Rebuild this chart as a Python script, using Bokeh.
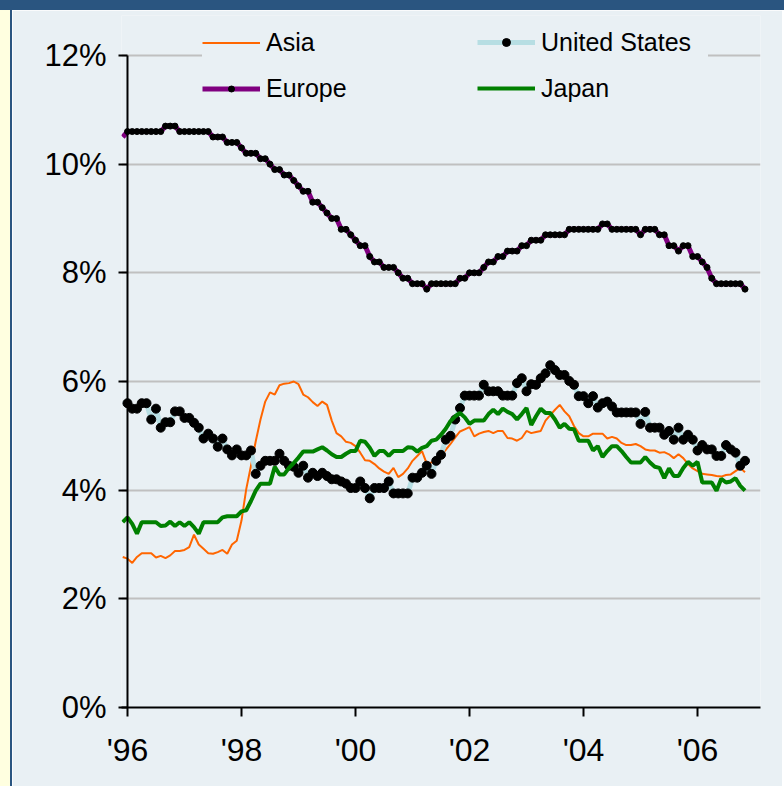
import pandas as pd
from bokeh.plotting import figure
from bokeh.layouts import column, row
from bokeh.models import FixedTicker, Legend, LegendItem, Range1d, Div
from bokeh.embed import file_html
from bokeh.resources import INLINE

# ---------------- data (monthly, Dec 1995 .. Nov 2006), in % ----------------
months = pd.date_range("1995-12-01", periods=132, freq="MS")

asia = [2.77, 2.74, 2.66, 2.77, 2.84, 2.84, 2.84, 2.76, 2.79, 2.75, 2.8, 2.88, 2.88,
        2.9, 2.95, 3.18, 3.0, 2.92, 2.84, 2.83, 2.86, 2.9, 2.83, 3.0, 3.07,
        3.44, 4.02, 4.45, 4.9, 5.3, 5.63, 5.8, 5.76, 5.93, 5.96, 5.97, 6.0, 5.95, 5.76,
        5.71, 5.62, 5.55, 5.63, 5.57, 5.28,
        5.05, 4.99, 4.89, 4.87, 4.81, 4.69, 4.55, 4.54, 4.48, 4.4, 4.34, 4.3, 4.41, 4.24,
        4.3, 4.4, 4.54, 4.63, 4.72, 4.49, 4.51,
        4.55, 4.64, 4.74, 4.85, 4.97, 5.08, 5.12, 5.16, 4.99, 5.04, 5.07, 5.09, 5.05, 5.09,
        5.09, 4.96, 4.95, 4.91, 4.96, 5.09, 5.05, 5.07, 5.09,
        5.28, 5.38, 5.48, 5.57, 5.45, 5.36, 5.18, 5.05, 4.99, 4.99, 5.04, 5.04, 5.04, 4.95,
        4.98, 4.95, 4.87, 4.83, 4.83, 4.85, 4.81, 4.75, 4.73, 4.73, 4.69, 4.7, 4.66, 4.59,
        4.66, 4.59, 4.48, 4.4, 4.35, 4.3, 4.29, 4.28, 4.26, 4.25, 4.28, 4.29, 4.35, 4.41, 4.33]

united_states = [5.6, 5.6, 5.5, 5.5, 5.6, 5.6, 5.3, 5.5, 5.15, 5.25,
                 5.25, 5.45, 5.45, 5.33, 5.33, 5.24, 5.15, 4.95, 5.04, 4.95,
                 4.8, 4.95, 4.75, 4.64, 4.75, 4.64, 4.64, 4.73, 4.3, 4.45,
                 4.54, 4.54, 4.54, 4.67, 4.54, 4.45, 4.43, 4.32, 4.45, 4.23,
                 4.32, 4.26, 4.32, 4.26,
                 4.2, 4.2, 4.16, 4.12, 4.04, 4.04, 4.16, 4.04, 3.85, 4.04,
                 4.04, 4.04, 4.16, 3.94, 3.94, 3.94, 3.94, 4.23, 4.23, 4.32,
                 4.45, 4.3, 4.54, 4.65, 4.93, 5.0, 5.3, 5.51, 5.74, 5.74,
                 5.74, 5.74, 5.94, 5.82, 5.82, 5.82, 5.74, 5.74, 5.74, 5.97,
                 6.06, 5.82, 5.95, 5.94, 6.06, 6.15,
                 6.3, 6.21, 6.12, 6.12, 6.01, 5.94, 5.73, 5.73, 5.6, 5.73,
                 5.52, 5.6, 5.63, 5.54, 5.43, 5.43, 5.43, 5.43, 5.43, 5.22,
                 5.44, 5.15, 5.15, 5.15, 5.02, 5.09, 4.93, 5.15, 4.93, 5.02,
                 4.93, 4.73, 4.83, 4.75, 4.75, 4.63, 4.63, 4.83, 4.75, 4.69,
                 4.45, 4.54]

europe = [10.5,
          10.6, 10.6, 10.6, 10.6, 10.6, 10.6, 10.6, 10.6,
          10.7, 10.7, 10.7,
          10.6, 10.6, 10.6, 10.6, 10.6, 10.6, 10.6,
          10.5, 10.5, 10.5, 10.4, 10.4, 10.4, 10.3, 10.2, 10.2, 10.2,
          10.1, 10.1, 10.0, 9.9, 9.9, 9.8, 9.8, 9.7, 9.6, 9.5, 9.5,
          9.3, 9.3, 9.2, 9.1, 9.0, 9.0, 8.8, 8.8, 8.7, 8.6, 8.5, 8.5,
          8.3, 8.2, 8.2, 8.1, 8.1, 8.1, 8.0, 7.9, 7.9, 7.8, 7.8, 7.8, 7.7,
          7.8, 7.8, 7.8, 7.8, 7.8, 7.8, 7.9, 7.9, 8.0, 8.0, 8.0, 8.1,
          8.2, 8.2, 8.3, 8.3, 8.4, 8.4, 8.4, 8.5, 8.5, 8.6, 8.6, 8.6,
          8.7, 8.7, 8.7, 8.7, 8.7,
          8.8, 8.8, 8.8, 8.8, 8.8, 8.8, 8.8, 8.9, 8.9,
          8.8, 8.8, 8.8, 8.8, 8.8, 8.8, 8.7, 8.8, 8.8, 8.8, 8.7, 8.7,
          8.5, 8.5, 8.4, 8.5, 8.5, 8.3, 8.3, 8.2, 8.1, 7.9,
          7.8, 7.8, 7.8, 7.8, 7.8, 7.8, 7.7]

japan = [3.41, 3.5, 3.38, 3.2, 3.41, 3.41, 3.41, 3.41, 3.34, 3.35, 3.42, 3.34, 3.41,
         3.34, 3.41, 3.32, 3.2, 3.41, 3.41, 3.41, 3.41, 3.5, 3.52, 3.52, 3.52, 3.61,
         3.63, 3.8, 3.99, 4.12, 4.12, 4.12, 4.43, 4.29, 4.29, 4.41, 4.5, 4.6, 4.71,
         4.71, 4.71, 4.75, 4.79, 4.73, 4.66,
         4.61, 4.61, 4.67, 4.72, 4.72, 4.91, 4.89, 4.78, 4.63, 4.72,
         4.72, 4.63, 4.72, 4.72, 4.72, 4.79, 4.78, 4.71, 4.78, 4.81,
         4.91, 4.93, 5.02, 5.13, 5.27, 5.36, 5.42, 5.34, 5.22, 5.28,
         5.28, 5.28, 5.4, 5.48, 5.4, 5.5, 5.44, 5.4, 5.3, 5.4,
         5.51, 5.2, 5.36, 5.5, 5.42,
         5.42, 5.3, 5.15, 5.22, 5.13, 5.12, 4.91, 4.91, 4.91, 4.73,
         4.81, 4.61, 4.72, 4.81, 4.81, 4.72, 4.61, 4.51, 4.51, 4.51,
         4.61, 4.51, 4.43, 4.41, 4.22, 4.4, 4.26, 4.26, 4.41, 4.52,
         4.45, 4.52, 4.14, 4.14, 4.14, 3.99, 4.21, 4.14, 4.16, 4.22,
         4.08, 3.99]

x_ticks = [1996, 1998, 2000, 2002, 2004, 2006]
x_tick_labels = ["'96", "'98", "'00", "'02", "'04", "'06"]
y_ticks = [0, 2, 4, 6, 8, 10, 12]
y_tick_labels = ["0%", "2%", "4%", "6%", "8%", "10%", "12%"]

for name, s in [("asia", asia), ("us", united_states), ("europe", europe), ("japan", japan)]:
    if len(s) != len(months):
        print("length mismatch", name, len(s))

x = list(months.year + (months.month - 1) / 12.0)

# ---------------- styling ----------------
BG = "#E9F0F4"
BLUE = "#2A5580"
CREAM = "#FFFFE0"
FONT = "Liberation Sans"

p = figure(width=772, height=776,
           x_range=Range1d(1995.895, 2007.105), y_range=Range1d(0, 12.736),
           output_backend="svg", toolbar_location=None,
           min_border_left=109, min_border_right=24, min_border_top=5, min_border_bottom=79,
           background_fill_color=BG, border_fill_color=BG, outline_line_color=None)
p.styles = {"border-left": "2px solid " + BLUE}

p.xgrid.visible = False
p.ygrid.ticker = FixedTicker(ticks=y_ticks[1:])
p.ygrid.grid_line_color = "#C0C0C0"
p.ygrid.grid_line_width = 2

xa = p.xaxis[0]
xa.ticker = FixedTicker(ticks=x_ticks)
xa.major_label_overrides = dict(zip(x_ticks, x_tick_labels))
xa.minor_tick_line_color = None
xa.major_tick_out = 9
xa.major_tick_in = 0
xa.axis_line_width = 2
xa.major_tick_line_width = 2
xa.major_label_text_font = FONT
xa.major_label_text_font_size = "32px"
xa.major_label_text_color = "#000000"
xa.major_label_standoff = 15

ya = p.yaxis[0]
ya.ticker = FixedTicker(ticks=y_ticks)
ya.major_label_overrides = dict(zip(y_ticks, y_tick_labels))
ya.minor_tick_line_color = None
ya.axis_line_color = None
ya.major_tick_in = 6
ya.major_tick_out = 3
ya.major_tick_line_width = 2
ya.major_label_text_font = FONT
ya.major_label_text_font_size = "31px"
ya.major_label_text_color = "#000000"
ya.major_label_standoff = 12

# ---------------- series ----------------
r_asia = p.line(x, asia, line_color="#FF6600", line_width=2)
r_us_line = p.line(x, united_states, line_color="#B7DEE3", line_width=5)
r_us_dots = p.scatter(x[1:], united_states[1:], size=9, fill_color="black", line_color="black")
r_eu_line = p.line(x, europe, line_color="#800080", line_width=5)
r_eu_dots = p.scatter(x[1:], europe[1:], size=6, fill_color="black", line_color="black")
r_jp = p.line(x, japan, line_color="#008000", line_width=4)

# y-axis line at '96, from 0% to 12%
p.segment(x0=[x_ticks[0]], y0=[y_ticks[0]], x1=[x_ticks[0]], y1=[y_ticks[-1]],
          line_color="black", line_width=2)

common = dict(orientation="vertical", spacing=10, glyph_width=58,
              label_height=36, label_standoff=6, background_fill_color=BG,
              background_fill_alpha=1.0, border_line_color=None, margin=0,
              label_text_font=FONT, label_text_font_size="25px", label_text_color="#000000")

leg1 = Legend(items=[LegendItem(label="Asia", renderers=[r_asia]),
                     LegendItem(label="Europe", renderers=[r_eu_line, r_eu_dots])],
              location=(81, 601), padding=20, label_width=222, glyph_height=15, **common)
leg2 = Legend(items=[LegendItem(label="United States", renderers=[r_us_line, r_us_dots]),
                     LegendItem(label="Japan", renderers=[r_jp])],
              location=(356, 601), padding=10, label_width=167, glyph_height=20, **common)
p.add_layout(leg1)
p.add_layout(leg2)

top_band = Div(width=784, height=10, margin=0, styles={"background-color": BLUE})
cream = Div(width=10, height=776, margin=0, styles={"background-color": CREAM})
layout = column(top_band, row(cream, p, spacing=0), spacing=0)

open("out.html", "w").write(file_html(layout, INLINE))
